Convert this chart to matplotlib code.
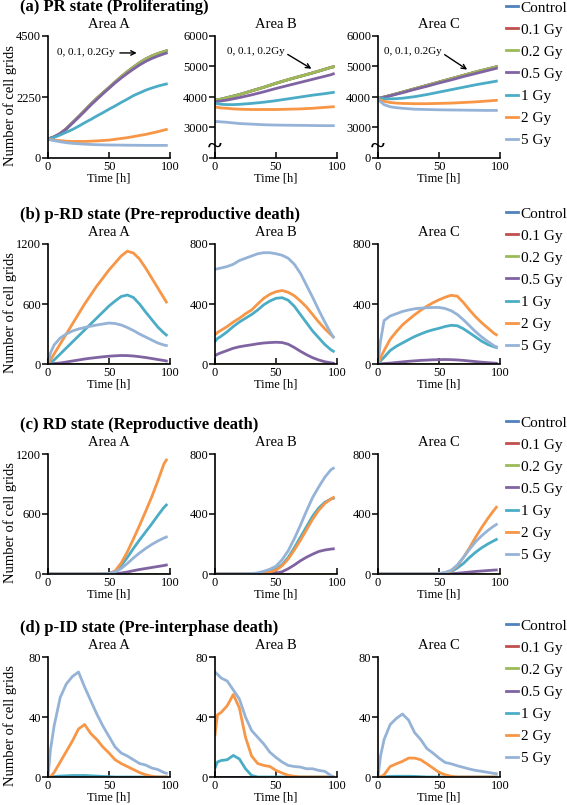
import numpy as np
import matplotlib
matplotlib.use('Agg')
import matplotlib.pyplot as plt

plt.rcParams['font.family'] = ['Liberation Serif', 'DejaVu Serif']

# ---- data ----
T = [0, 2, 5, 10, 15, 20, 25, 30, 35, 40, 45, 50, 55, 60, 65, 70, 75, 80, 85, 90, 95, 97]
labels = ['Control', '0.1 Gy', '0.2 Gy', '0.5 Gy', '1 Gy', '2 Gy', '5 Gy']
colors = ['#4F81BD', '#C0504D', '#9BBB59', '#8064A2', '#4BACC6', '#F79646', '#95B3D7']
zero = [0] * 22

# (a) PR state, 0/0.1/0.2 Gy overlap
pr_A_low = [700, 730, 780, 900, 1080, 1300, 1520, 1750, 1980, 2200, 2400, 2600, 2800, 3000, 3180, 3350, 3510, 3650, 3760, 3850, 3920, 3950]
pr_A_05 = [700, 730, 780, 900, 1070, 1280, 1500, 1720, 1950, 2160, 2370, 2570, 2770, 2950, 3120, 3280, 3430, 3560, 3670, 3760, 3840, 3870]
pr_A_1 = [700, 720, 760, 850, 950, 1050, 1170, 1300, 1420, 1550, 1670, 1800, 1920, 2050, 2170, 2300, 2400, 2500, 2580, 2650, 2710, 2730]
pr_A_2 = [700, 680, 660, 640, 620, 610, 610, 610, 620, 630, 645, 660, 690, 720, 750, 790, 830, 870, 920, 970, 1030, 1050]
pr_A_5 = [700, 670, 640, 600, 565, 540, 525, 510, 500, 490, 485, 480, 477, 475, 472, 470, 468, 466, 465, 465, 465, 465]

pr_B_low = [3900, 3910, 3930, 3980, 4030, 4080, 4140, 4200, 4260, 4320, 4385, 4450, 4510, 4570, 4625, 4680, 4735, 4790, 4850, 4910, 4970, 4990]
pr_B_05 = [3850, 3855, 3870, 3900, 3940, 3980, 4025, 4070, 4120, 4170, 4225, 4280, 4330, 4380, 4430, 4480, 4530, 4580, 4630, 4680, 4730, 4760]
pr_B_1 = [3800, 3780, 3760, 3750, 3750, 3760, 3775, 3790, 3810, 3830, 3855, 3880, 3910, 3940, 3970, 4000, 4030, 4060, 4085, 4110, 4140, 4150]
pr_B_2 = [3680, 3660, 3640, 3630, 3610, 3600, 3595, 3590, 3590, 3590, 3590, 3590, 3595, 3600, 3605, 3610, 3620, 3630, 3645, 3660, 3675, 3680]
pr_B_5 = [3200, 3195, 3185, 3170, 3150, 3130, 3120, 3110, 3100, 3090, 3085, 3080, 3077, 3075, 3072, 3070, 3068, 3065, 3062, 3060, 3060, 3060]

pr_C_low = [3950, 3970, 4000, 4050, 4105, 4160, 4215, 4270, 4325, 4380, 4435, 4490, 4545, 4600, 4655, 4710, 4765, 4820, 4870, 4920, 4970, 4990]
pr_C_05 = [3950, 3965, 3990, 4040, 4090, 4140, 4195, 4250, 4300, 4350, 4405, 4460, 4510, 4560, 4615, 4670, 4720, 4770, 4820, 4870, 4920, 4940]
pr_C_1 = [3970, 3955, 3945, 3940, 3945, 3960, 3985, 4010, 4045, 4080, 4120, 4160, 4200, 4240, 4280, 4320, 4360, 4400, 4435, 4470, 4505, 4520]
pr_C_2 = [3950, 3900, 3860, 3820, 3800, 3790, 3785, 3780, 3780, 3780, 3785, 3790, 3795, 3800, 3810, 3820, 3830, 3840, 3855, 3870, 3885, 3890]
pr_C_5 = [3950, 3850, 3750, 3680, 3650, 3630, 3615, 3600, 3595, 3590, 3585, 3580, 3577, 3575, 3572, 3570, 3567, 3565, 3562, 3560, 3560, 3560]

# (b) p-RD state
prd_A_05 = [0, 2, 5, 10, 20, 30, 40, 50, 58, 65, 72, 78, 82, 85, 84, 80, 73, 65, 55, 45, 35, 30]
prd_A_1 = [0, 15, 40, 100, 160, 220, 280, 340, 400, 460, 520, 580, 630, 675, 690, 665, 600, 520, 445, 370, 310, 290]
prd_A_2 = [0, 40, 100, 200, 300, 400, 500, 600, 690, 780, 860, 940, 1010, 1080, 1128, 1110, 1050, 960, 860, 760, 660, 620]
prd_A_5 = [0, 110, 190, 260, 300, 330, 350, 365, 378, 390, 400, 410, 405, 390, 365, 335, 300, 270, 240, 210, 190, 185]

prd_B_05 = [55, 65, 75, 90, 105, 115, 122, 128, 135, 140, 143, 145, 143, 132, 110, 85, 62, 42, 27, 15, 8, 5]
prd_B_1 = [150, 170, 185, 215, 250, 280, 305, 330, 360, 395, 420, 438, 442, 425, 385, 330, 275, 220, 175, 130, 95, 85]
prd_B_2 = [195, 210, 225, 250, 280, 305, 335, 360, 400, 438, 465, 482, 490, 478, 455, 420, 380, 330, 280, 235, 195, 180]
prd_B_5 = [630, 635, 640, 650, 665, 690, 705, 720, 735, 742, 742, 735, 725, 705, 665, 605, 525, 445, 360, 280, 205, 180]

prd_C_05 = [0, 1, 3, 6, 10, 14, 18, 21, 24, 26, 28, 29, 30, 29, 27, 24, 20, 16, 12, 9, 6, 5]
prd_C_1 = [0, 20, 45, 90, 118, 140, 162, 183, 200, 216, 228, 238, 250, 258, 255, 235, 208, 180, 152, 130, 115, 110]
prd_C_2 = [0, 40, 90, 165, 215, 260, 295, 328, 358, 385, 408, 428, 445, 458, 452, 410, 360, 315, 275, 240, 205, 195]
prd_C_5 = [0, 150, 290, 320, 335, 350, 360, 368, 372, 375, 377, 377, 370, 355, 330, 295, 255, 215, 180, 150, 122, 115]

# (c) RD state
rd_A_05 = [0, 0, 0, 0, 0, 0, 0, 0, 0, 0, 0, 0, 3, 10, 20, 33, 45, 55, 65, 75, 85, 90]
rd_A_1 = [0, 0, 0, 0, 0, 0, 0, 0, 0, 0, 0, 5, 25, 85, 165, 255, 340, 420, 500, 585, 665, 690]
rd_A_2 = [0, 0, 0, 0, 0, 0, 0, 0, 0, 0, 0, 3, 30, 110, 220, 350, 485, 625, 770, 930, 1100, 1140]
rd_A_5 = [0, 0, 0, 0, 0, 0, 0, 0, 0, 0, 0, 5, 20, 55, 105, 160, 210, 255, 295, 330, 360, 370]

rd_B_05 = [0, 0, 0, 0, 0, 0, 0, 0, 0, 0, 2, 6, 15, 35, 60, 88, 112, 132, 150, 160, 166, 168]
rd_B_1 = [0, 0, 0, 0, 0, 0, 0, 0, 3, 8, 18, 32, 62, 110, 175, 245, 315, 385, 440, 478, 500, 505]
rd_B_2 = [0, 0, 0, 0, 0, 0, 0, 0, 2, 6, 14, 25, 55, 100, 160, 225, 295, 365, 425, 470, 500, 510]
rd_B_5 = [0, 0, 0, 0, 0, 0, 0, 2, 8, 18, 32, 52, 95, 155, 235, 325, 420, 510, 580, 645, 695, 705]

rd_C_05 = [0, 0, 0, 0, 0, 0, 0, 0, 0, 0, 0, 0, 0, 2, 5, 9, 13, 17, 20, 23, 26, 27]
rd_C_1 = [0, 0, 0, 0, 0, 0, 0, 0, 0, 0, 0, 1, 5, 15, 40, 70, 110, 145, 175, 200, 222, 230]
rd_C_2 = [0, 0, 0, 0, 0, 0, 0, 0, 0, 0, 0, 2, 8, 20, 55, 110, 175, 245, 310, 370, 425, 445]
rd_C_5 = [0, 0, 0, 0, 0, 0, 0, 0, 0, 0, 0, 3, 10, 25, 60, 110, 165, 215, 255, 290, 320, 330]

# (d) p-ID state
pid_A_1 = [0, 0, 0.3, 0.6, 0.8, 1, 1, 1, 0.8, 0.6, 0.4, 0.2, 0, 0, 0, 0, 0, 0, 0, 0, 0, 0]
pid_A_2 = [0, 0, 3, 10, 17, 24, 32, 35, 29, 25, 20, 16, 11.5, 9, 7, 5, 3, 1.5, 0.5, 0, 0, 0]
pid_A_5 = [0, 18, 34, 53, 62, 67, 70, 60, 51, 42, 34, 27, 20, 16, 14, 11.5, 9, 8, 6, 5, 3, 2.5]

pid_B_1 = [6, 10, 11, 11.5, 14.4, 12, 5.5, 1, 0, 0, 0, 0, 0, 0, 0, 0, 0, 0, 0, 0, 0, 0]
pid_B_2 = [28, 41.5, 43, 47.5, 55, 46, 26.5, 14, 9, 7.7, 7, 4.4, 2.7, 1.1, 0.5, 0, 0, 0, 0, 0, 0, 0]
pid_B_5 = [70, 68.5, 66, 64, 58, 52, 40, 31, 26.5, 22, 16.5, 13, 10, 7.7, 7, 6.6, 5.5, 5.5, 4.4, 3.8, 1, 0]

pid_C_1 = [0, 0, 0.2, 0.4, 0.5, 0.5, 0.5, 0.4, 0.2, 0, 0, 0, 0, 0, 0, 0, 0, 0, 0, 0, 0, 0]
pid_C_2 = [0, 0, 1.5, 7, 8.8, 10.4, 12.6, 12.6, 11.5, 8.8, 6, 3.1, 1.5, 0.5, 0, 0, 0, 0, 0, 0, 0, 0]
pid_C_5 = [0, 13.7, 25, 35, 39, 42, 38, 29.6, 25, 19, 16, 12.6, 9.7, 8.8, 7.5, 6.4, 5.3, 4.4, 3.8, 3.1, 2.4, 2.2]

rows = [
    [[pr_A_low, pr_A_low, pr_A_low, pr_A_05, pr_A_1, pr_A_2, pr_A_5],
     [pr_B_low, pr_B_low, pr_B_low, pr_B_05, pr_B_1, pr_B_2, pr_B_5],
     [pr_C_low, pr_C_low, pr_C_low, pr_C_05, pr_C_1, pr_C_2, pr_C_5]],
    [[zero, zero, zero, prd_A_05, prd_A_1, prd_A_2, prd_A_5],
     [zero, zero, zero, prd_B_05, prd_B_1, prd_B_2, prd_B_5],
     [zero, zero, zero, prd_C_05, prd_C_1, prd_C_2, prd_C_5]],
    [[zero, zero, zero, rd_A_05, rd_A_1, rd_A_2, rd_A_5],
     [zero, zero, zero, rd_B_05, rd_B_1, rd_B_2, rd_B_5],
     [zero, zero, zero, rd_C_05, rd_C_1, rd_C_2, rd_C_5]],
    [[zero, zero, zero, zero, pid_A_1, pid_A_2, pid_A_5],
     [zero, zero, zero, zero, pid_B_1, pid_B_2, pid_B_5],
     [zero, zero, zero, zero, pid_C_1, pid_C_2, pid_C_5]],
]
row_titles = ['(a) PR state (Proliferating)', '(b) p-RD state (Pre-reproductive death)',
              '(c) RD state (Reproductive death)', '(d) p-ID state (Pre-interphase death)']
yticks = [
    [[0, 2250, 4500], [0, 3000, 4000, 5000, 6000], [0, 3000, 4000, 5000, 6000]],
    [[0, 600, 1200], [0, 400, 800], [0, 400, 800]],
    [[0, 600, 1200], [0, 400, 800], [0, 400, 800]],
    [[0, 40, 80], [0, 40, 80], [0, 40, 80]],
]
areas = ['Area A', 'Area B', 'Area C']


# broken axis for PR state B/C: 0..3000 squeezed into one 1000 step
def brk_fwd(v):
    v = np.asarray(v, dtype=float)
    return np.where(v < 3000, v / 3.0, v - 2000.0)


def brk_inv(u):
    u = np.asarray(u, dtype=float)
    return np.where(u < 1000, u * 3.0, u + 2000.0)


W, H = 567, 805
fig = plt.figure(figsize=(W / 100, H / 100), dpi=100)

col_left = [48, 215, 378]
col_w = 122
row_top = [36, 244, 454, 657]
row_h = [122, 120, 120, 120]
legend_y = [74, 280, 489, 692]

for r in range(4):
    fig.text(20 / W, 1 - (row_top[r] - 29) / H, row_titles[r], fontsize=12,
             fontweight='bold', ha='left', va='center')
    for c in range(3):
        ax = fig.add_axes([col_left[c] / W, 1 - (row_top[r] + row_h[r]) / H,
                           col_w / W, row_h[r] / H])
        if r == 0 and c > 0:
            ax.set_yscale('function', functions=(brk_fwd, brk_inv))
        lines = []
        for s, ser in enumerate(rows[r][c]):
            ln, = ax.plot(T, ser, color=colors[s], lw=2.0, label=labels[s])
            lines.append(ln)
        ax.set_xlim(0, 100)
        ax.set_ylim(yticks[r][c][0], yticks[r][c][-1])
        ax.set_xticks([0, 50, 100])
        ax.set_yticks(yticks[r][c])
        ax.set_yticklabels([str(v) for v in yticks[r][c]])
        for side in ['top', 'right']:
            ax.spines[side].set_visible(False)
        for side in ['left', 'bottom']:
            ax.spines[side].set_linewidth(1.2)
        ax.tick_params(axis='y', direction='out', length=4, width=1.1, pad=1, labelsize=9)
        ax.tick_params(axis='x', direction='in', length=4, width=1.1, pad=2, labelsize=9)
        ax.set_xlabel('Time [h]', fontsize=9, labelpad=0)
        ax.set_title(areas[c], fontsize=10.5, pad=6)
        if c == 0:
            ax.set_ylabel('Number of cell grids', fontsize=10.5)
            ax.yaxis.set_label_coords(-0.255, 0.43)
        if r == 0 and c > 0:
            ax.text(0, 1200, '~', transform=ax.get_yaxis_transform(), ha='center',
                    va='center', fontsize=19, fontweight='bold')
        if r == 0:
            if c == 0:
                ax.annotate('0, 0.1, 0.2Gy', xy=(75, 3875), xytext=(7, 3875), fontsize=8,
                            va='center', ha='left',
                            arrowprops=dict(arrowstyle='->', lw=1, color='black'))
            elif c == 1:
                ax.annotate('0, 0.1, 0.2Gy', xy=(81, 4880), xytext=(10, 5480), fontsize=8,
                            va='center', ha='left',
                            arrowprops=dict(arrowstyle='->', lw=1, color='black',
                                            relpos=(1, 0.4), shrinkA=0))
            else:
                ax.annotate('0, 0.1, 0.2Gy', xy=(75, 4848), xytext=(5, 5478), fontsize=8,
                            va='center', ha='left',
                            arrowprops=dict(arrowstyle='->', lw=1, color='black',
                                            relpos=(1, 0.4), shrinkA=0))
        if c == 2:
            fig.legend(lines, labels, loc='center left',
                       bbox_to_anchor=(506 / W, 1 - legend_y[r] / H), frameon=False,
                       fontsize=11, handlelength=0.8, handletextpad=0.15,
                       labelspacing=0.55, borderpad=0, borderaxespad=0)

fig.savefig('out.png', dpi=100)
